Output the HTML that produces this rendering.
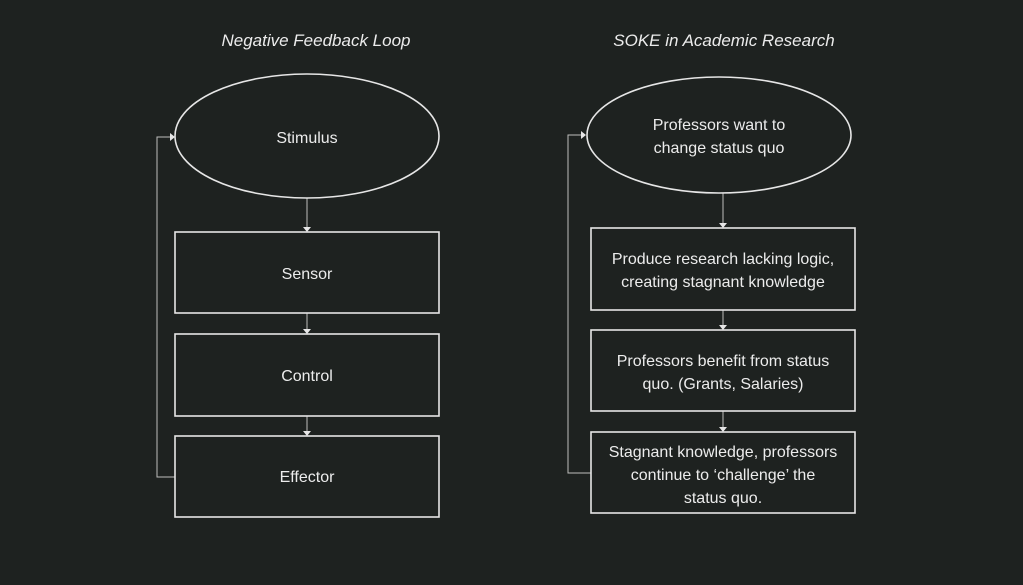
<!DOCTYPE html>
<html><head><meta charset="utf-8"><style>
html,body{margin:0;padding:0;background:#1e2220;}
svg{display:block}
text{font-family:"Liberation Sans",sans-serif;fill:#ececec;font-size:16px;text-anchor:middle}
.t{font-style:italic;font-size:17px}
.s{fill:#1e2220;stroke:#e6e6e6;stroke-width:1.6}
.c{stroke:#bdbdbd;stroke-width:1;fill:none}
.a{fill:#e6e6e6}
</style></head><body>
<svg width="1023" height="585" viewBox="0 0 1023 585" xmlns="http://www.w3.org/2000/svg">
<rect width="1023" height="585" fill="#1e2220"/>
<text class="t" x="316" y="46">Negative Feedback Loop</text>
<text class="t" x="724" y="46">SOKE in Academic Research</text>

<!-- left -->
<path class="c" d="M307 198V228M307 313V330M307 416V432M175 477H157V137H171"/>
<path class="a" d="M303 227h8l-4 5zM303 329h8l-4 5zM303 431h8l-4 5zM170 133v8l5-4z"/>
<ellipse class="s" cx="307" cy="136" rx="132" ry="62"/>
<rect class="s" x="175" y="232" width="264" height="81"/>
<rect class="s" x="175" y="334" width="264" height="82"/>
<rect class="s" x="175" y="436" width="264" height="81"/>
<text x="307" y="143">Stimulus</text>
<text x="307" y="279">Sensor</text>
<text x="307" y="381">Control</text>
<text x="307" y="482">Effector</text>

<!-- right -->
<path class="c" d="M723 193V224M723 310V326M723 411V428M591 473H568V135H582"/>
<path class="a" d="M719 223h8l-4 5zM719 325h8l-4 5zM719 427h8l-4 5zM581 131v8l5-4z"/>
<ellipse class="s" cx="719" cy="135" rx="132" ry="58"/>
<rect class="s" x="591" y="228" width="264" height="82"/>
<rect class="s" x="591" y="330" width="264" height="81"/>
<rect class="s" x="591" y="432" width="264" height="81"/>
<text x="719" y="130">Professors want to</text>
<text x="719" y="153">change status quo</text>
<text x="723" y="264">Produce research lacking logic,</text>
<text x="723" y="287">creating stagnant knowledge</text>
<text x="723" y="366">Professors benefit from status</text>
<text x="723" y="389">quo. (Grants, Salaries)</text>
<text x="723" y="457">Stagnant knowledge, professors</text>
<text x="723" y="480">continue to ‘challenge’ the</text>
<text x="723" y="503">status quo.</text>
</svg>
</body></html>
